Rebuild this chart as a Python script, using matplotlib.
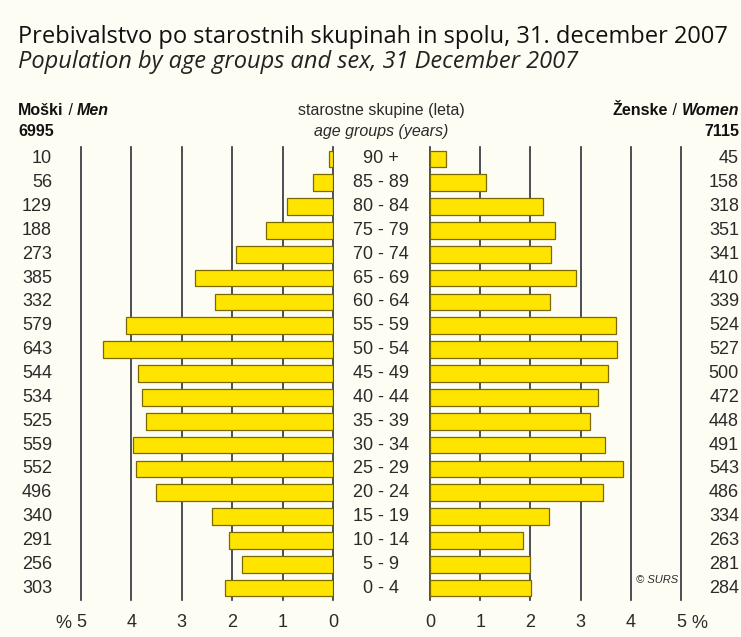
import matplotlib.pyplot as plt
from matplotlib.transforms import blended_transform_factory
import numpy as np

# age groups from oldest (top) to youngest (bottom)
age_groups = ['90 +', '85 - 89', '80 - 84', '75 - 79', '70 - 74', '65 - 69',
              '60 - 64', '55 - 59', '50 - 54', '45 - 49', '40 - 44', '35 - 39',
              '30 - 34', '25 - 29', '20 - 24', '15 - 19', '10 - 14', '5 - 9', '0 - 4']
men_count = [10, 56, 129, 188, 273, 385, 332, 579, 643, 544, 534, 525,
             559, 552, 496, 340, 291, 256, 303]
women_count = [45, 158, 318, 351, 341, 410, 339, 524, 527, 500, 472, 448,
               491, 543, 486, 334, 263, 281, 284]
# bar lengths in %
men_pct = [0.07, 0.40, 0.91, 1.33, 1.93, 2.73, 2.35, 4.10, 4.56, 3.86, 3.78, 3.72,
           3.96, 3.91, 3.52, 2.41, 2.06, 1.81, 2.15]
women_pct = [0.32, 1.12, 2.25, 2.49, 2.42, 2.91, 2.40, 3.71, 3.73, 3.54, 3.35, 3.18,
             3.48, 3.85, 3.44, 2.37, 1.86, 1.99, 2.01]
men_total = 6995
women_total = 7115
pct_ticks = [0, 1, 2, 3, 4, 5]

W, H = 741, 637
bg = '#fefdf3'
txt = '#2a2a2a'
bar_color = '#ffe400'
bar_edge = '#7a6800'
grid_color = '#2c303a'
num_font = 'Liberation Sans'
narrow = ['Liberation Sans Narrow', 'Liberation Sans']

fig = plt.figure(figsize=(W / 100, H / 100), dpi=100, facecolor=bg)

bottom = 1 - 600 / H
height = 453 / H
ax_m = fig.add_axes([81 / W, bottom, 252 / W, height])
ax_w = fig.add_axes([430 / W, bottom, 251 / W, height])

y = np.arange(len(age_groups))

for ax, vals in ((ax_m, men_pct), (ax_w, women_pct)):
    ax.set_facecolor('none')
    for t in pct_ticks:
        ax.axvline(t, color=grid_color, lw=1.2, zorder=0, clip_on=False)
    ax.barh(y, vals, height=0.7, color=bar_color, edgecolor=bar_edge,
            linewidth=0.9, zorder=2)
    ax.set_ylim(len(age_groups) - 0.5, -0.5)
    ax.set_yticks([])
    ax.set_xticks(pct_ticks)
    ax.set_xticklabels([str(t) for t in pct_ticks], fontsize=13,
                       family=num_font, color=txt)
    ax.tick_params(axis='x', length=0, pad=10)
    for s in ax.spines.values():
        s.set_visible(False)

ax_m.set_xlim(5, 0)
ax_w.set_xlim(0, 5)

# percent signs next to the outer tick labels
fig.text(63 / W, 1 - 624 / H, '%', fontsize=13, family=num_font, color=txt,
         ha='center', va='center')
fig.text(699 / W, 1 - 624 / H, '%', fontsize=13, family=num_font, color=txt,
         ha='center', va='center')

# row labels
tr = blended_transform_factory(fig.transFigure, ax_m.transData)
for i in range(len(age_groups)):
    fig.text(52 / W, i, str(men_count[i]), transform=tr, ha='right', va='center',
             fontsize=13, family=num_font, color=txt)
    fig.text(381 / W, i, age_groups[i], transform=tr, ha='center', va='center',
             fontsize=13, family=num_font, color=txt)
    fig.text(739 / W, i, str(women_count[i]), transform=tr, ha='right', va='center',
             fontsize=13, family=num_font, color=txt)

fig.text(657 / W, len(age_groups) - 1.35, '© SURS', transform=tr, fontsize=8,
         family=num_font, style='italic', color=txt, ha='center', va='center')

# title
fig.text(18 / W, 1 - 43 / H, 'Prebivalstvo po starostnih skupinah in spolu, 31. december 2007',
         fontsize=17, family='Open Sans', color='#111111', va='baseline')
fig.text(18 / W, 1 - 68 / H, 'Population by age groups and sex, 31 December 2007',
         fontsize=17, family='Open Sans', style='italic', color='#222222', va='baseline')

# column headers
hs = 11.5
t1 = fig.text(18 / W, 1 - 118 / H, 'Moški', fontsize=hs, family=narrow,
              weight='bold', color='#111111', va='bottom')
a2 = ax_m.annotate(' / ', xy=(1, 0), xycoords=t1, fontsize=hs, family=narrow,
                   color='#111111', va='bottom')
ax_m.annotate('Men', xy=(1, 0), xycoords=a2, fontsize=hs, family=narrow,
              weight='bold', style='italic', color='#111111', va='bottom')
fig.text(18 / W, 1 - 139 / H, str(men_total), fontsize=hs, family=narrow,
         weight='bold', color='#111111', va='bottom')

fig.text(381 / W, 1 - 118 / H, 'starostne skupine (leta)', fontsize=hs, family=narrow,
         color=txt, ha='center', va='bottom')
fig.text(381 / W, 1 - 139 / H, 'age groups (years)', fontsize=hs, family=narrow,
         style='italic', color=txt, ha='center', va='bottom')

w1 = fig.text(739 / W, 1 - 118 / H, 'Women', fontsize=hs, family=narrow,
              weight='bold', style='italic', color='#111111', ha='right', va='bottom')
w2 = ax_w.annotate(' / ', xy=(0, 0), xycoords=w1, fontsize=hs, family=narrow,
                   color='#111111', ha='right', va='bottom')
ax_w.annotate('Ženske', xy=(0, 0), xycoords=w2, fontsize=hs, family=narrow,
              weight='bold', color='#111111', ha='right', va='bottom')
fig.text(739 / W, 1 - 139 / H, str(women_total), fontsize=hs, family=narrow,
         weight='bold', color='#111111', ha='right', va='bottom')

fig.savefig('out.png', dpi=100, facecolor=bg)
